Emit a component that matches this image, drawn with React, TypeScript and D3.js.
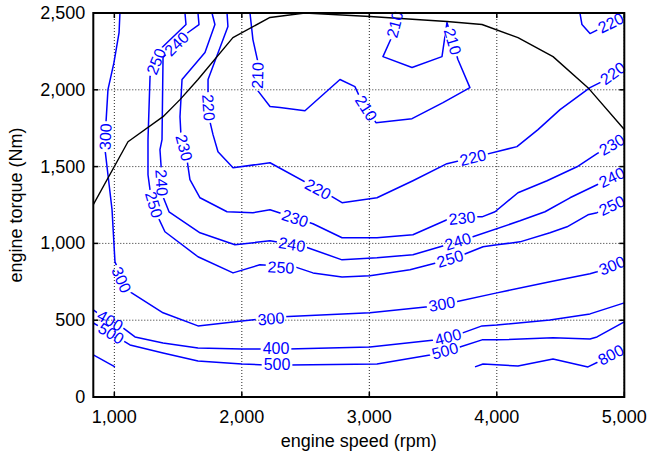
import React from 'react';
import * as d3 from 'd3';

type Pt = [number, number];

const W = 647;
const H = 457;
const plot = { left: 93.3, right: 624.3, top: 13, bottom: 397 };

const xTicks = [1000, 2000, 3000, 4000, 5000];
const yTicks = [0, 500, 1000, 1500, 2000, 2500];

// full-load (maximum torque) curve: [rpm, Nm]
const maxTorque: Pt[] = [[835, 1252], [1107, 1662], [1382, 1825], [1515, 1936], [1656, 2067], [1930, 2340], [2221, 2471], [2495, 2500], [3005, 2477], [3609, 2445], [3884, 2425], [4166, 2340], [4441, 2216], [4715, 2014], [5000, 1741]];

// iso-BSFC contours (g/kWh): polyline points and label anchors, [rpm, Nm]
const c210: Pt[] = [[2064, 2500], [2087, 2327], [2127, 2177], [2119, 2001], [2221, 1891], [2299, 1884], [2495, 1864], [2770, 2067], [2887, 2021], [2927, 1949], [3052, 1786], [3335, 1812], [3578, 1917], [3789, 2014], [3695, 2197], [3609, 2438], [3570, 2216], [3335, 2145], [3107, 2216], [3178, 2347], [3225, 2500]];
const c210Labels: Pt[] = [[2124, 2093], [2974, 1880], [3653, 2314], [3201, 2425]];

const c220a: Pt[] = [[1884, 2500], [1891, 2412], [1735, 2067], [1735, 1956], [1750, 1793], [1774, 1708], [1813, 1597], [1931, 1493], [2221, 1525], [2707, 1304], [2786, 1265], [3060, 1297], [3342, 1408], [3609, 1519], [3907, 1578], [4158, 1630], [4323, 1741], [4496, 1871], [4731, 2014], [4825, 2053], [5000, 2158]];
const c220aLabels: Pt[] = [[1738, 1884], [2597, 1352], [3813, 1558], [4911, 2106]];

const c220b: Pt[] = [[4652, 2500], [4668, 2425], [4731, 2366], [5000, 2477]];
const c220bLabels: Pt[] = [[4895, 2435]];

const c230: Pt[] = [[1766, 2500], [1789, 2425], [1711, 2243], [1531, 2067], [1515, 1825], [1523, 1695], [1570, 1545], [1593, 1415], [1672, 1297], [1884, 1206], [2087, 1200], [2221, 1219], [2558, 1128], [2786, 1037], [3060, 1037], [3342, 1056], [3609, 1154], [3829, 1173], [3884, 1173], [3986, 1206], [4166, 1330], [4394, 1408], [4629, 1499], [4786, 1584], [5000, 1688]];
const c230Labels: Pt[] = [[1546, 1623], [2417, 1163], [3727, 1164], [4903, 1642]];

const c240: Pt[] = [[1656, 2500], [1664, 2425], [1578, 2373], [1397, 2223], [1382, 2210], [1374, 1675], [1358, 1610], [1366, 1512], [1382, 1304], [1429, 1206], [1672, 1069], [1946, 991], [2221, 1017], [2495, 978], [2786, 893], [3060, 906], [3342, 926], [3609, 991], [3789, 1037], [4182, 1147], [4378, 1206], [4574, 1297], [4786, 1382], [5000, 1467]];
const c240Labels: Pt[] = [[1489, 2298], [1370, 1395], [2393, 992], [3695, 1012], [4903, 1429]];

const c250: Pt[] = [[1554, 2500], [1562, 2425], [1374, 2275], [1280, 2086], [1264, 1675], [1264, 1447], [1280, 1349], [1342, 1173], [1397, 1076], [1656, 913], [1931, 808], [2142, 861], [2417, 847], [2558, 808], [2786, 782], [3005, 789], [3319, 828], [3530, 874], [3735, 926], [3892, 978], [4001, 991], [4182, 1010], [4417, 1069], [4551, 1108], [4715, 1186], [4786, 1200], [5000, 1284]];
const c250Labels: Pt[] = [[1328, 2184], [1310, 1252], [2307, 843], [3633, 899], [4903, 1246]];

const c300: Pt[] = [[1044, 2500], [1037, 2373], [997, 2177], [950, 2001], [935, 1793], [927, 1610], [950, 1447], [982, 1219], [1005, 880], [1099, 698], [1382, 548], [1656, 463], [2001, 495], [2142, 508], [2323, 522], [3005, 548], [3460, 587], [3672, 619], [4001, 678], [4417, 750], [4731, 802], [4786, 815], [5000, 887]];
const c300Labels: Pt[] = [[931, 1695], [1055, 763], [2229, 509], [3570, 604], [4903, 855]];

const c400: Pt[] = [[835, 567], [888, 535], [1068, 450], [1162, 391], [1382, 352], [1656, 319], [2001, 313], [2182, 313], [2362, 313], [3005, 326], [3530, 372], [3711, 411], [3884, 463], [4001, 469], [4417, 502], [4731, 541], [5000, 613]];
const c400Labels: Pt[] = [[966, 497], [2268, 313], [3617, 390]];

const c500: Pt[] = [[835, 482], [888, 456], [1084, 359], [1123, 339], [1382, 287], [1656, 235], [2001, 215], [2182, 209], [2378, 209], [3060, 215], [3476, 274], [3711, 326], [3884, 372], [4001, 372], [4441, 385], [4731, 378], [4786, 391], [5000, 489]];
const c500Labels: Pt[] = [[974, 413], [2276, 209], [3593, 300]];

const c800a: Pt[] = [[835, 274], [1005, 196]];
const c800b: Pt[] = [[3829, 196], [3892, 215], [4166, 202], [4441, 248], [4715, 196], [4794, 228], [5000, 319]];
const c800bLabels: Pt[] = [[4895, 274]];

const contours = [
  { level: 210, points: c210, labels: c210Labels },
  { level: 220, points: c220a, labels: c220aLabels },
  { level: 220, points: c220b, labels: c220bLabels },
  { level: 230, points: c230, labels: c230Labels },
  { level: 240, points: c240, labels: c240Labels },
  { level: 250, points: c250, labels: c250Labels },
  { level: 300, points: c300, labels: c300Labels },
  { level: 400, points: c400, labels: c400Labels },
  { level: 500, points: c500, labels: c500Labels },
  { level: 800, points: c800a, labels: [] as Pt[] },
  { level: 800, points: c800b, labels: c800bLabels },
];

const x = d3.scaleLinear().domain([835, 5000]).range([plot.left, plot.right]);
const y = d3.scaleLinear().domain([0, 2500]).range([plot.bottom, plot.top]);
const line = d3.line<Pt>().x((d) => x(d[0])).y((d) => y(d[1]));
const fmt = d3.format(',');

const FONT = '"Liberation Sans", Arial, Helvetica, sans-serif';
const BLUE = '#0000ff';
const LABEL_SIZE = 16;
const AXIS_SIZE = 18;

// text direction follows the nearest segment of the contour, kept readable
function labelAngle(pts: Pt[], p: Pt): number {
  const px = x(p[0]);
  const py = y(p[1]);
  let best = Infinity;
  let ang = 0;
  for (let i = 0; i < pts.length - 1; i++) {
    const ax = x(pts[i][0]);
    const ay = y(pts[i][1]);
    const dx = x(pts[i + 1][0]) - ax;
    const dy = y(pts[i + 1][1]) - ay;
    const L = dx * dx + dy * dy;
    let t = L ? ((px - ax) * dx + (py - ay) * dy) / L : 0;
    t = Math.max(0, Math.min(1, t));
    const d = Math.hypot(ax + t * dx - px, ay + t * dy - py);
    if (d < best) {
      best = d;
      ang = (Math.atan2(dy, dx) * 180) / Math.PI;
    }
  }
  if (ang > 90) ang -= 180;
  if (ang < -90) ang += 180;
  return ang;
}

export default function App() {
  const pw = plot.right - plot.left;
  const ph = plot.bottom - plot.top;
  const tick = 5;
  return (
    <svg width={W} height={H} style={{ position: 'absolute', left: 0, top: 0, background: '#fff' }}>
      <defs>
        <clipPath id="plotClip">
          <rect x={plot.left} y={plot.top} width={pw} height={ph} />
        </clipPath>
        {contours.map((c, i) => (
          <mask id={`lblGap${i}`} key={i} maskUnits="userSpaceOnUse" x={0} y={0} width={W} height={H}>
            <rect x={0} y={0} width={W} height={H} fill="#fff" />
            {c.labels.map((p, j) => {
              const a = labelAngle(c.points, p);
              const w = String(c.level).length * 0.556 * LABEL_SIZE + 4;
              return (
                <rect
                  key={j}
                  x={-w / 2}
                  y={-6}
                  width={w}
                  height={12}
                  fill="#000"
                  transform={`translate(${x(p[0])},${y(p[1])}) rotate(${a})`}
                />
              );
            })}
          </mask>
        ))}
      </defs>

      {/* dotted grid */}
      <g stroke="#000" strokeWidth={1} strokeDasharray="1,2" opacity={0.85}>
        {xTicks.map((t) => (
          <line key={`gx${t}`} x1={x(t)} x2={x(t)} y1={plot.top} y2={plot.bottom} />
        ))}
        {yTicks.map((t) => (
          <line key={`gy${t}`} x1={plot.left} x2={plot.right} y1={y(t)} y2={y(t)} />
        ))}
      </g>

      <g clipPath="url(#plotClip)">
        {contours.map((c, i) => (
          <path
            key={`c${i}`}
            d={line(c.points) || ''}
            fill="none"
            stroke={BLUE}
            strokeWidth={1.5}
            strokeLinejoin="round"
            mask={`url(#lblGap${i})`}
          />
        ))}
        <path d={line(maxTorque) || ''} fill="none" stroke="#000" strokeWidth={1.4} strokeLinejoin="round" />
      </g>

      {contours.map((c, i) =>
        c.labels.map((p, j) => {
          const a = labelAngle(c.points, p);
          return (
            <text
              key={`l${i}-${j}`}
              transform={`translate(${x(p[0])},${y(p[1])}) rotate(${a})`}
              textAnchor="middle"
              dominantBaseline="central"
              fontFamily={FONT}
              fontSize={LABEL_SIZE}
              fill={BLUE}
            >
              {c.level}
            </text>
          );
        })
      )}

      {/* frame and ticks */}
      <rect x={plot.left} y={plot.top} width={pw} height={ph} fill="none" stroke="#000" strokeWidth={2} />
      <g stroke="#000" strokeWidth={1.5}>
        {xTicks.map((t) => (
          <g key={`tx${t}`}>
            <line x1={x(t)} x2={x(t)} y1={plot.bottom} y2={plot.bottom - tick} />
            <line x1={x(t)} x2={x(t)} y1={plot.top} y2={plot.top + tick} />
          </g>
        ))}
        {yTicks.map((t) => (
          <g key={`ty${t}`}>
            <line x1={plot.left} x2={plot.left + tick} y1={y(t)} y2={y(t)} />
            <line x1={plot.right} x2={plot.right - tick} y1={y(t)} y2={y(t)} />
          </g>
        ))}
      </g>

      <g fontFamily={FONT} fontSize={AXIS_SIZE} fill="#000">
        {xTicks.map((t) => (
          <text key={`xl${t}`} x={x(t)} y={plot.bottom + 20} textAnchor="middle" dominantBaseline="central">
            {fmt(t)}
          </text>
        ))}
        {yTicks.map((t) => (
          <text key={`yl${t}`} x={plot.left - 8} y={y(t)} textAnchor="end" dominantBaseline="central">
            {fmt(t)}
          </text>
        ))}
        <text x={(plot.left + plot.right) / 2} y={441} textAnchor="middle" dominantBaseline="central">
          engine speed (rpm)
        </text>
        <text
          transform={`translate(16,${(plot.top + plot.bottom) / 2}) rotate(-90)`}
          textAnchor="middle"
          dominantBaseline="central"
        >
          engine torque (Nm)
        </text>
      </g>
    </svg>
  );
}
